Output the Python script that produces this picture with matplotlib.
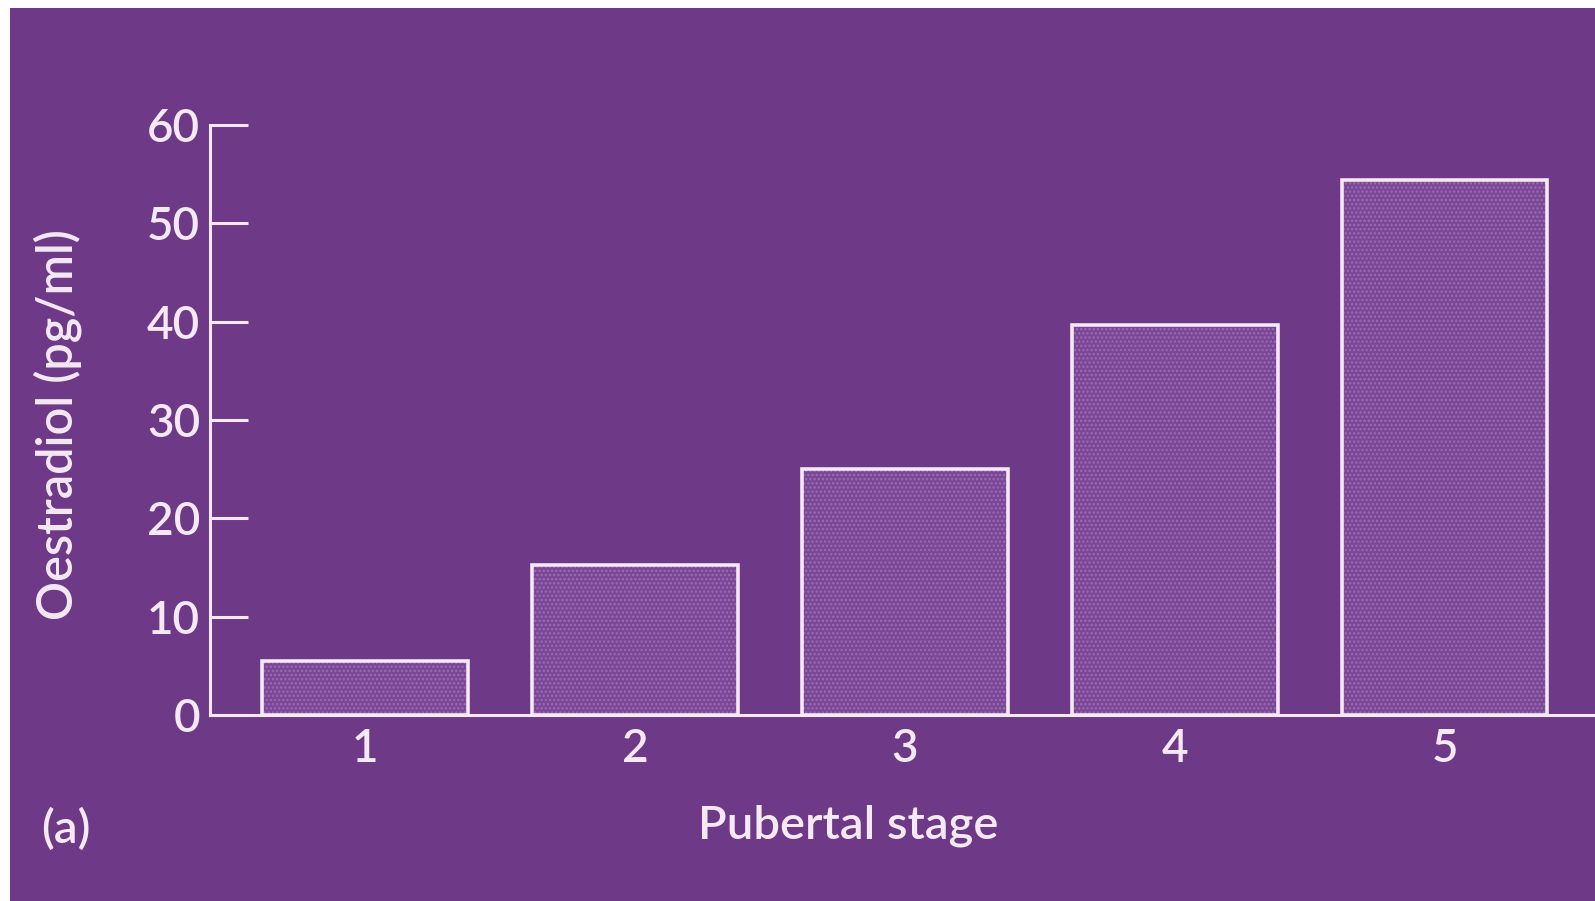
import matplotlib.pyplot as plt
from matplotlib.patches import Rectangle

# oestradiol by pubertal stage
stages = [1, 2, 3, 4, 5]
stage_labels = ['1', '2', '3', '4', '5']
oestradiol = [5.5, 15.3, 25.0, 39.7, 54.4]
yticks = [0, 10, 20, 30, 40, 50, 60]

bg = '#6e3987'
fg = '#f4e9f4'

plt.rcParams['font.family'] = ['Lato', 'DejaVu Sans']
plt.rcParams['font.weight'] = 'semibold'
plt.rcParams['hatch.linewidth'] = 1.2

W, H = 1595, 901
fig = plt.figure(figsize=(W / 100, H / 100), dpi=100, facecolor='white')

# purple slide area (thin white margin on top and left)
fig.patches.append(Rectangle((10 / W, 0), 1 - 10 / W, (H - 8) / H,
                             transform=fig.transFigure, facecolor=bg,
                             edgecolor='none', zorder=-10))

ax = fig.add_axes([210 / W, (H - 715) / H, 1 - 210 / W, (715 - 125) / H])
ax.set_facecolor('none')

# dotted fill
ax.bar(stages, oestradiol, width=0.76, color='#7a4695', edgecolor='#9a6cb2',
       hatch='....', linewidth=0, zorder=2)
# white outline
ax.bar(stages, oestradiol, width=0.76, fill=False, edgecolor=fg,
       linewidth=2.6, zorder=3, clip_on=False)

ax.set_xlim(0.426, 5.556)
ax.set_ylim(0, 60)

for s in ['top', 'right']:
    ax.spines[s].set_visible(False)
for s in ['left', 'bottom']:
    ax.spines[s].set_color(fg)
    ax.spines[s].set_linewidth(2.2)
    ax.spines[s].set_zorder(4)

ax.set_yticks(yticks)
ax.tick_params(axis='y', direction='in', length=27, width=2.2, color=fg,
               labelcolor=fg, labelsize=33, pad=7)
ax.set_xticks(stages)
ax.set_xticklabels(stage_labels)
ax.tick_params(axis='x', length=0, labelcolor=fg, labelsize=33, pad=9)

fig.text(848 / W, 1 - 826 / H, 'Pubertal stage', color=fg, fontsize=34,
         ha='center', va='center')
fig.text(58 / W, 1 - 425 / H, 'Oestradiol (pg/ml)', color=fg, fontsize=35,
         ha='center', va='center', rotation=90)
fig.text(66 / W, 1 - 829 / H, '(a)', color=fg, fontsize=34,
         ha='center', va='center')

fig.savefig('out.png', dpi=100, facecolor=fig.get_facecolor())
